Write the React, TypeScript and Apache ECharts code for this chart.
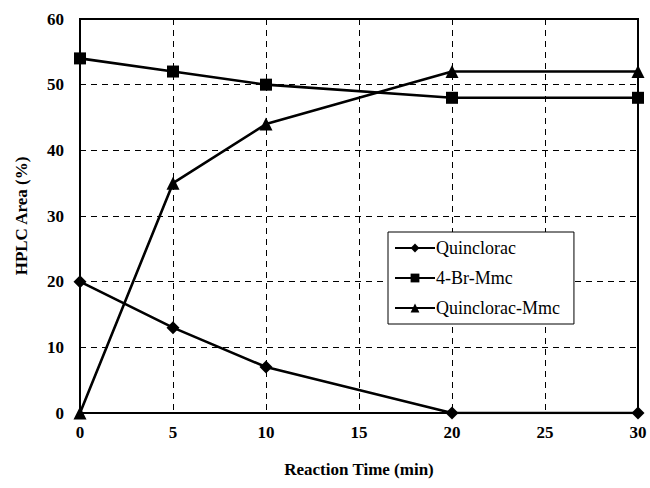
import React, { useEffect, useRef } from "react";
import * as echarts from "echarts";

const xValues = [0, 5, 10, 20, 30];
const quinclorac = [20, 13, 7, 0, 0];
const bromoMmc = [54, 52, 50, 48, 48];
const quincloracMmc = [0, 35, 44, 52, 52];
const seriesNames = ["Quinclorac", "4-Br-Mmc", "Quinclorac-Mmc"];

const FONT = "Liberation Serif";

export default function App() {
  const ref = useRef<HTMLDivElement>(null);
  useEffect(() => {
    if (!ref.current) return;
    const chart = echarts.init(ref.current, null, { renderer: "svg" });
    const mk = (vals: number[]) => xValues.map((x, i) => [x, vals[i]]);
    const lineStyle = { color: "#000", width: 2.6 };
    const itemStyle = { color: "#000" };
    const boldText = { fontFamily: FONT, fontSize: 17, fontWeight: "bold", color: "#000" };
    chart.setOption({
      animation: false,
      backgroundColor: "#fff",
      grid: {
        left: 80,
        right: 12,
        top: 19,
        bottom: 75,
        show: true,
        borderColor: "#000",
        borderWidth: 2,
      },
      legend: {
        orient: "vertical",
        left: 388,
        top: 232,
        backgroundColor: "#fff",
        borderColor: "#000",
        borderWidth: 1,
        padding: [7, 14, 7, 6],
        itemGap: 12,
        itemWidth: 40,
        itemHeight: 11,
        data: seriesNames,
        textStyle: { fontFamily: FONT, fontSize: 18, color: "#000", padding: [0, 0, 0, -4] },
      },
      xAxis: {
        type: "value",
        min: 0,
        max: 30,
        interval: 5,
        name: "Reaction Time (min)",
        nameLocation: "middle",
        nameGap: 48,
        nameTextStyle: boldText,
        axisLine: { lineStyle: { color: "#000", width: 2 } },
        axisTick: { show: false },
        axisLabel: { ...boldText, margin: 11 },
        splitLine: { show: true, lineStyle: { color: "#000", type: [6, 5], width: 1 } },
      },
      yAxis: {
        type: "value",
        min: 0,
        max: 60,
        interval: 10,
        name: "HPLC Area (%)",
        nameLocation: "middle",
        nameGap: 50,
        nameTextStyle: boldText,
        axisLine: { show: true, lineStyle: { color: "#000", width: 2 } },
        axisTick: { show: false },
        axisLabel: { ...boldText, margin: 16 },
        splitLine: { show: true, lineStyle: { color: "#000", type: [6, 5], width: 1 } },
      },
      series: [
        {
          name: seriesNames[0],
          type: "line",
          data: mk(quinclorac),
          symbol: "diamond",
          symbolSize: 13,
          lineStyle,
          itemStyle,
        },
        {
          name: seriesNames[1],
          type: "line",
          data: mk(bromoMmc),
          symbol: "rect",
          symbolSize: 12,
          lineStyle,
          itemStyle,
        },
        {
          name: seriesNames[2],
          type: "line",
          data: mk(quincloracMmc),
          symbol: "triangle",
          symbolSize: 13,
          lineStyle,
          itemStyle,
        },
      ],
    });
    return () => chart.dispose();
  }, []);
  return (
    <div
      ref={ref}
      style={{ position: "fixed", left: 0, top: 0, width: 650, height: 488, background: "#fff" }}
    />
  );
}
